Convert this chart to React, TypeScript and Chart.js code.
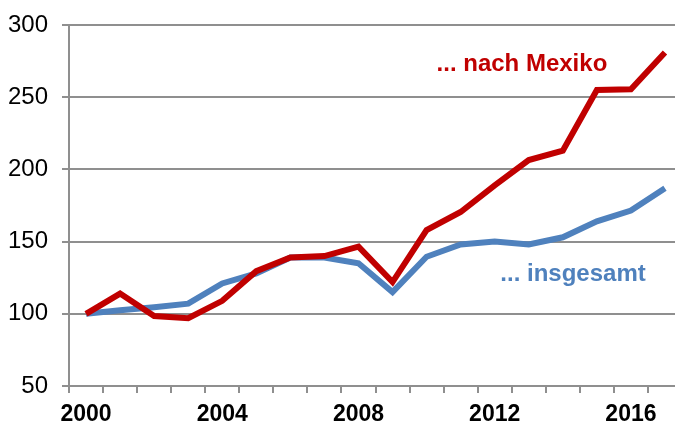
import React, { useEffect, useRef } from "react";
import { Chart, registerables } from "chart.js";

Chart.register(...registerables);

const years = ["2000","2001","2002","2003","2004","2005","2006","2007","2008","2009","2010","2011","2012","2013","2014","2015","2016","2017"];
const mexiko = [100, 114, 98.5, 97, 109, 129.5, 139, 140, 146.5, 122, 158, 170.5, 189, 206.5, 213, 255, 255.5, 281];
const insgesamt = [100, 102.5, 104.5, 107, 121, 128, 139, 139, 135, 115, 139.5, 148, 150, 148, 153, 164, 171.5, 187];
const yTicks = [50, 100, 150, 200, 250, 300];

const RED = "#C00000";
const BLUE = "#4F81BD";
const GRID = "#8f8f8f";
const FONT = "'Liberation Sans', Arial, sans-serif";

const labelPlugin = {
  id: "seriesLabels",
  afterDatasetsDraw(chart: any) {
    const { ctx, scales } = chart;
    const x = scales.x;
    const y = scales.y;
    ctx.save();
    ctx.font = `bold 24px ${FONT}`;
    ctx.textAlign = "center";
    ctx.textBaseline = "alphabetic";
    const step = x.getPixelForValue(1) - x.getPixelForValue(0);
    const px = (i: number) => x.getPixelForValue(0) + i * step;
    ctx.fillStyle = RED;
    ctx.fillText("... nach Mexiko", px(12.8), y.getPixelForValue(268));
    ctx.fillStyle = BLUE;
    ctx.fillText("... insgesamt", px(14.3), y.getPixelForValue(122.7));
    ctx.restore();
  },
};

export default function App() {
  const ref = useRef<HTMLCanvasElement>(null);
  useEffect(() => {
    if (!ref.current) return;
    const chart = new Chart(ref.current, {
      type: "line",
      data: {
        labels: years,
        datasets: [
          { label: "... nach Mexiko", data: mexiko, borderColor: RED, borderWidth: 6, pointRadius: 0, tension: 0, order: 0 },
          { label: "... insgesamt", data: insgesamt, borderColor: BLUE, borderWidth: 6, pointRadius: 0, tension: 0, order: 1 },
        ],
      },
      options: {
        responsive: false,
        animation: false,
        devicePixelRatio: 1,
        layout: { padding: { top: 25, right: 0, bottom: 0, left: 0 } },
        plugins: { legend: { display: false }, tooltip: { enabled: false } },
        scales: {
          x: {
            offset: true,
            afterFit: (s: any) => { s.height = 40; s.paddingLeft = 0; s.paddingRight = 0; },
            grid: { offset: true, drawOnChartArea: false, drawTicks: true, tickLength: 7, color: GRID, lineWidth: 2 },
            border: { display: true, color: GRID, width: 2 },
            ticks: {
              autoSkip: false,
              maxRotation: 0,
              padding: 10,
              color: "#000",
              font: { family: FONT, size: 23, weight: "bold", lineHeight: 1.0 },
              callback: (_v: any, i: number) => (Number(years[i]) % 4 === 0 ? years[i] : ""),
            },
          },
          y: {
            min: 50,
            max: 300,
            afterFit: (s: any) => { s.width = 69; s.paddingTop = 0; s.paddingBottom = 0; },
            afterBuildTicks: (axis: any) => { axis.ticks = yTicks.map((v) => ({ value: v })); },
            grid: { color: GRID, lineWidth: 2, tickLength: 7 },
            border: { display: true, color: GRID, width: 2 },
            ticks: { padding: 14, color: "#000", font: { family: FONT, size: 24 } },
          },
        },
      },
      plugins: [labelPlugin],
    });
    return () => chart.destroy();
  }, []);
  return (
    <div style={{ position: "fixed", left: 0, top: 0, width: 675, height: 426, overflow: "hidden", background: "#fff" }}>
      <canvas ref={ref} width={682} height={426} style={{ display: "block" }} />
    </div>
  );
}
